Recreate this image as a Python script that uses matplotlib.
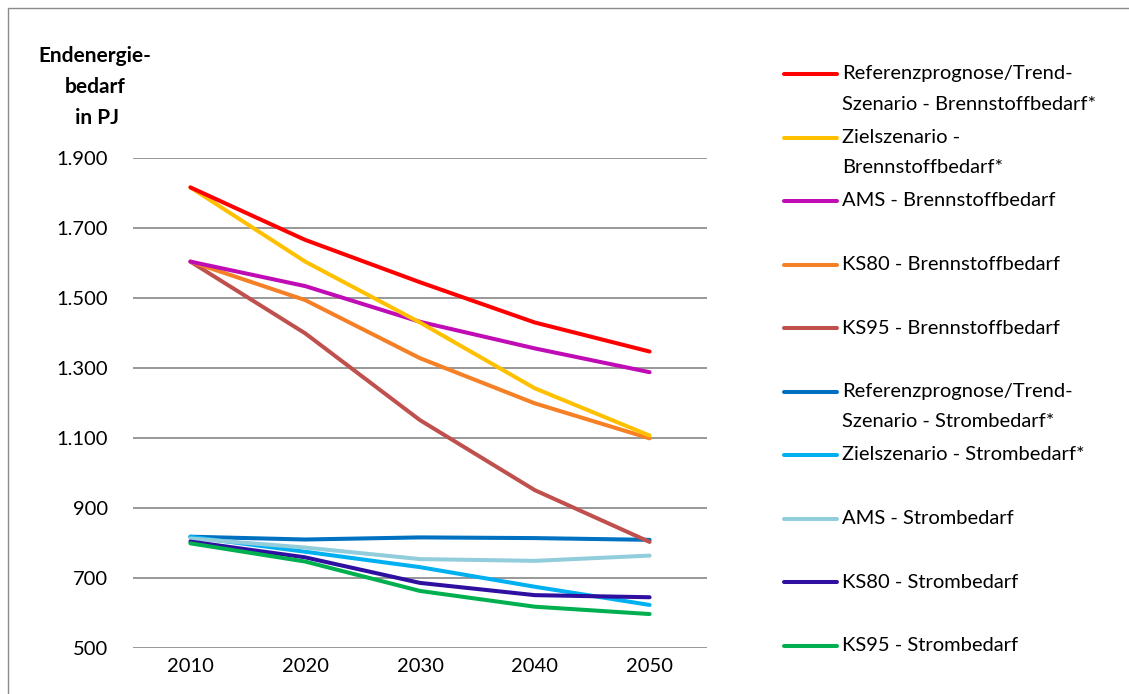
import numpy as np
import matplotlib
matplotlib.use("Agg")
import matplotlib.pyplot as plt
from matplotlib.lines import Line2D
from matplotlib.patches import Rectangle
from matplotlib.ticker import FuncFormatter

plt.rcParams['font.family'] = ['Lato', 'DejaVu Sans']

# Daten
years = ["2010", "2020", "2030", "2040", "2050"]

ref_brenn = [1816, 1666, 1545, 1430, 1347]
ziel_brenn = [1816, 1604, 1430, 1242, 1107]
ams_brenn = [1604, 1534, 1432, 1356, 1288]
ks80_brenn = [1604, 1494, 1328, 1199, 1099]
ks95_brenn = [1604, 1399, 1151, 951, 803]

ref_strom = [818, 810, 816, 814, 809]
ziel_strom = [818, 775, 731, 675, 623]
ams_strom = [813, 787, 754, 749, 764]
ks80_strom = [804, 759, 686, 651, 645]
ks95_strom = [799, 747, 663, 618, 597]

labels = [
    "Referenzprognose/Trend-\nSzenario - Brennstoffbedarf*",
    "Zielszenario -\nBrennstoffbedarf*",
    "AMS - Brennstoffbedarf",
    "KS80 - Brennstoffbedarf",
    "KS95 - Brennstoffbedarf",
    "Referenzprognose/Trend-\nSzenario - Strombedarf*",
    "Zielszenario - Strombedarf*",
    "AMS - Strombedarf",
    "KS80 - Strombedarf",
    "KS95 - Strombedarf",
]
series = [ref_brenn, ziel_brenn, ams_brenn, ks80_brenn, ks95_brenn,
          ref_strom, ziel_strom, ams_strom, ks80_strom, ks95_strom]
colors = ["#FF0000", "#FFC000", "#C00CB4", "#F58025", "#C0504D",
          "#0070C0", "#00B0F0", "#92CDDC", "#2E0FA0", "#00B050"]

W, H = 1129, 694
fig = plt.figure(figsize=(W / 100, H / 100), dpi=100)

# Rahmen
fig.patches.append(Rectangle((8 / W, -0.1), 1.2, 1 - 8 / H + 0.1,
                             transform=fig.transFigure, fill=False,
                             edgecolor="#8A8A8A", linewidth=1.0))

ax = fig.add_axes([133 / W, 1 - 648 / H, 574 / W, 490 / H])
x = np.arange(len(years))

# Strom zuerst zeichnen, Brennstoff darüber
order = [5, 6, 7, 8, 9, 4, 3, 2, 1, 0]
for i in order:
    ax.plot(x, series[i], color=colors[i], linewidth=2.9,
            solid_capstyle="round", solid_joinstyle="round", zorder=3)

ax.set_xlim(-0.5, 4.5)
ax.set_ylim(500, 1900)
ax.set_yticks(np.arange(500, 1901, 200))
ax.yaxis.set_major_formatter(FuncFormatter(lambda v, p: f"{int(v):,}".replace(",", ".")))
ax.set_xticks(x)
ax.set_xticklabels(years)
ax.grid(axis="y", color="#868686", linewidth=1.2, zorder=1)
ax.set_axisbelow(True)
for s in ax.spines.values():
    s.set_visible(False)
ax.tick_params(axis="both", length=0, labelsize=14.5)
ax.tick_params(axis="y", pad=18)
ax.tick_params(axis="x", pad=7)

fig.text(95 / W, 1 - 87 / H, "Endenergie-\nbedarf\n in PJ", ha="center", va="center",
         fontsize=15, fontweight="bold", linespacing=1.7)

# Legende
y0 = 74
step = 63.5
for k, (lab, col) in enumerate(zip(labels, colors)):
    yy = y0 + k * step
    fig.add_artist(Line2D([784 / W, 837 / W], [1 - yy / H, 1 - yy / H],
                          transform=fig.transFigure, color=col, linewidth=2.9,
                          solid_capstyle="round"))
    for j, line in enumerate(lab.split("\n")):
        fig.text(842 / W, 1 - (yy + j * 30) / H, line, ha="left", va="center",
                 fontsize=14.5)

fig.savefig("out.png", dpi=100)
